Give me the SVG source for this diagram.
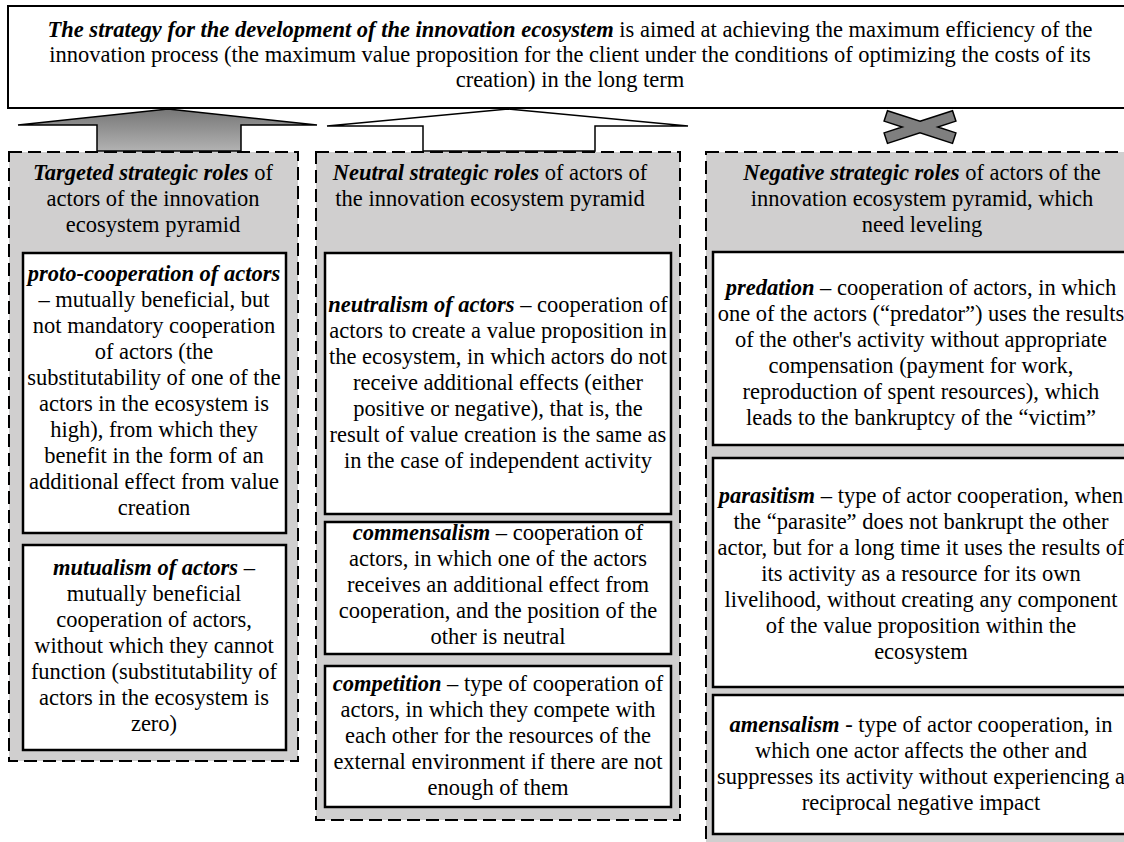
<svg xmlns="http://www.w3.org/2000/svg" width="1124" height="842" viewBox="0 0 1124 842" font-family="Liberation Serif, Times New Roman, serif">
<style>
.t{font-size:22.5px;fill:#000;text-anchor:middle}
.bi{font-weight:bold;font-style:italic}
.box{fill:#fff;stroke:#000;stroke-width:2.5}
.dash{fill:#d0cfcf;stroke:#000;stroke-width:2;stroke-dasharray:13 6}
.arr{stroke:#000;stroke-width:1.5;stroke-linejoin:miter}
</style>
<defs>
<linearGradient id="gArrow" x1="0" y1="0" x2="0" y2="1">
<stop offset="0" stop-color="#767676"/>
<stop offset="1" stop-color="#b2b2b2"/>
</linearGradient>
</defs>
<rect width="1124" height="842" fill="#fff"/>

<g id="top-strategy">
<rect class="box" x="8" y="6" width="1126" height="102" style="stroke-width:2"/>
<text class="t" x="570" y="37"><tspan class="bi">The strategy for the development of the innovation ecosystem</tspan> is aimed at achieving the maximum efficiency of the</text>
<text class="t" x="570" y="62">innovation process (the maximum value proposition for the client under the conditions of optimizing the costs of its</text>
<text class="t" x="570" y="87">creation) in the long term</text>
</g>

<g id="connectors">
<path class="arr" fill="url(#gArrow)" d="M168,109 L317,125 L241,125 L241,151 L97,151 L97,125 L18,125 Z"/>
<path class="arr" fill="#fff" d="M508,109 L688,126 L595,126 L595,151 L423,151 L423,126 L327,126 Z"/>
<polygon class="arr" fill="#7f7f7f" points="920,121.2 952.5,110.7 955.9,121.1 937.8,127 955.9,132.9 952.5,143.4 920,132.8 887.5,143.4 884.1,132.9 902.2,127 884.1,121.1 887.5,110.7"/>
</g>

<g id="targeted-roles">
<rect class="dash" x="9" y="152" width="289" height="609"/>
<text class="t" x="153" y="180"><tspan class="bi">Targeted strategic roles</tspan> of</text>
<text class="t" x="153" y="206">actors of the innovation</text>
<text class="t" x="153" y="232">ecosystem pyramid</text>
</g>

<g id="proto-cooperation">
<rect class="box" x="23" y="253" width="263" height="280"/>
<text class="t" x="154" y="281"><tspan class="bi">proto-cooperation of actors</tspan></text>
<text class="t" x="154" y="307">– mutually beneficial, but</text>
<text class="t" x="154" y="333">not mandatory cooperation</text>
<text class="t" x="154" y="359">of actors (the</text>
<text class="t" x="154" y="385">substitutability of one of the</text>
<text class="t" x="154" y="411">actors in the ecosystem is</text>
<text class="t" x="154" y="437">high), from which they</text>
<text class="t" x="154" y="463">benefit in the form of an</text>
<text class="t" x="154" y="489">additional effect from value</text>
<text class="t" x="154" y="515">creation</text>
</g>

<g id="mutualism">
<rect class="box" x="23" y="545" width="263" height="205"/>
<text class="t" x="154" y="575"><tspan class="bi">mutualism of actors</tspan> –</text>
<text class="t" x="154" y="601">mutually beneficial</text>
<text class="t" x="154" y="627">cooperation of actors,</text>
<text class="t" x="154" y="653">without which they cannot</text>
<text class="t" x="154" y="679">function (substitutability of</text>
<text class="t" x="154" y="705">actors in the ecosystem is</text>
<text class="t" x="154" y="731">zero)</text>
</g>

<g id="neutral-roles">
<rect class="dash" x="316" y="152" width="364" height="668"/>
<text class="t" x="490" y="180"><tspan class="bi">Neutral strategic roles</tspan> of actors of</text>
<text class="t" x="490" y="206">the innovation ecosystem pyramid</text>
</g>

<g id="neutralism">
<rect class="box" x="325" y="253" width="346" height="261"/>
<text class="t" x="498" y="312"><tspan class="bi">neutralism of actors</tspan> – cooperation of</text>
<text class="t" x="498" y="338">actors to create a value proposition in</text>
<text class="t" x="498" y="364">the ecosystem, in which actors do not</text>
<text class="t" x="498" y="390">receive additional effects (either</text>
<text class="t" x="498" y="416">positive or negative), that is, the</text>
<text class="t" x="498" y="442">result of value creation is the same as</text>
<text class="t" x="498" y="468">in the case of independent activity</text>
</g>

<g id="commensalism">
<rect class="box" x="325" y="522" width="346" height="132"/>
<text class="t" x="498" y="540"><tspan class="bi">commensalism</tspan> – cooperation of</text>
<text class="t" x="498" y="566">actors, in which one of the actors</text>
<text class="t" x="498" y="592">receives an additional effect from</text>
<text class="t" x="498" y="618">cooperation, and the position of the</text>
<text class="t" x="498" y="644">other is neutral</text>
</g>

<g id="competition">
<rect class="box" x="325" y="666" width="346" height="141"/>
<text class="t" x="498" y="691"><tspan class="bi">competition</tspan> – type of cooperation of</text>
<text class="t" x="498" y="717">actors, in which they compete with</text>
<text class="t" x="498" y="743">each other for the resources of the</text>
<text class="t" x="498" y="769">external environment if there are not</text>
<text class="t" x="498" y="795">enough of them</text>
</g>

<g id="negative-roles">
<rect class="dash" x="706" y="152" width="432" height="700"/>
<text class="t" x="922" y="180"><tspan class="bi">Negative strategic roles</tspan> of actors of the</text>
<text class="t" x="922" y="206">innovation ecosystem pyramid, which</text>
<text class="t" x="922" y="232">need leveling</text>
</g>

<g id="predation">
<rect class="box" x="713" y="252" width="417" height="193"/>
<text class="t" x="921" y="295"><tspan class="bi">predation</tspan> – cooperation of actors, in which</text>
<text class="t" x="921" y="321">one of the actors (“predator”) uses the results</text>
<text class="t" x="921" y="347">of the other's activity without appropriate</text>
<text class="t" x="921" y="373">compensation (payment for work,</text>
<text class="t" x="921" y="399">reproduction of spent resources), which</text>
<text class="t" x="921" y="425">leads to the bankruptcy of the “victim”</text>
</g>

<g id="parasitism">
<rect class="box" x="713" y="458" width="417" height="229"/>
<text class="t" x="921" y="503"><tspan class="bi">parasitism</tspan> – type of actor cooperation, when</text>
<text class="t" x="921" y="529">the “parasite” does not bankrupt the other</text>
<text class="t" x="921" y="555">actor, but for a long time it uses the results of</text>
<text class="t" x="921" y="581">its activity as a resource for its own</text>
<text class="t" x="921" y="607">livelihood, without creating any component</text>
<text class="t" x="921" y="633">of the value proposition within the</text>
<text class="t" x="921" y="659">ecosystem</text>
</g>

<g id="amensalism">
<rect class="box" x="713" y="695" width="417" height="139"/>
<text class="t" x="921" y="732"><tspan class="bi">amensalism</tspan> - type of actor cooperation, in</text>
<text class="t" x="921" y="758">which one actor affects the other and</text>
<text class="t" x="921" y="784">suppresses its activity without experiencing a</text>
<text class="t" x="921" y="810">reciprocal negative impact</text>
</g>
</svg>
